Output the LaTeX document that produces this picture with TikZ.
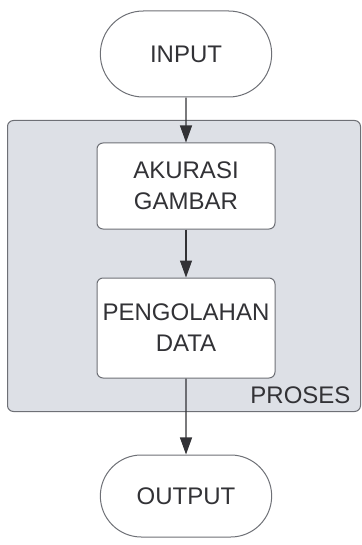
\documentclass[tikz,border=0pt]{standalone}
\usepackage{fontspec}
\setmainfont{Liberation Sans}
\usetikzlibrary{positioning,shapes.misc,arrows.meta,fit,backgrounds}
\definecolor{ink}{RGB}{50,50,54}
\definecolor{edge}{RGB}{110,112,118}
\definecolor{panel}{RGB}{221,224,230}
\tikzset{node distance=45pt,
  terminal/.style={draw=edge,fill=white,rounded rectangle,minimum width=178pt,minimum height=86pt,line width=1pt,text=ink,font=\fontsize{24}{29}\selectfont},
  process/.style={draw=edge,fill=white,rounded corners=6pt,minimum width=178pt,line width=1pt,text=ink,align=center,font=\fontsize{24}{31}\selectfont},
  group/.style={draw=edge,fill=panel,rounded corners=6pt,line width=1pt,inner sep=0pt},
  flow/.style={draw=ink,line width=1.1pt,-{Triangle[length=17pt,width=12pt]}}}

\begin{document}
\begin{tikzpicture}
				\useasboundingbox (0,0) rectangle (361pt,-545pt);
				\node[terminal] (input) at (186pt,-54pt) {INPUT};
				\node[process,minimum height=86pt] (akurasi) [below=45pt of input] {AKURASI\\GAMBAR};
				\node[process,minimum height=100pt] (olah) [below=48pt of akurasi] {PENGOLAHAN\\DATA};
				\node[terminal,minimum height=82pt] (output) [below=76pt of olah] {OUTPUT};

				\coordinate (p1) at ([shift={(-89pt,22pt)}]akurasi.north west);
				\coordinate (p2) at ([shift={(85pt,-33pt)}]olah.south east);
				\begin{scope}[on background layer]
				\node[group,fit=(p1)(p2)] (proses) {};
				\end{scope}
				\node[text=ink,font=\fontsize{24}{28}\selectfont,anchor=south east] (lbl) at ([shift={(-7pt,5pt)}]proses.south east) {PROSES};

				\path[flow]
				(input) -- (akurasi);
				\path[flow] (akurasi) -- (olah);
				\path[flow] (olah) -- (output);

			\end{tikzpicture}
\end{document}
